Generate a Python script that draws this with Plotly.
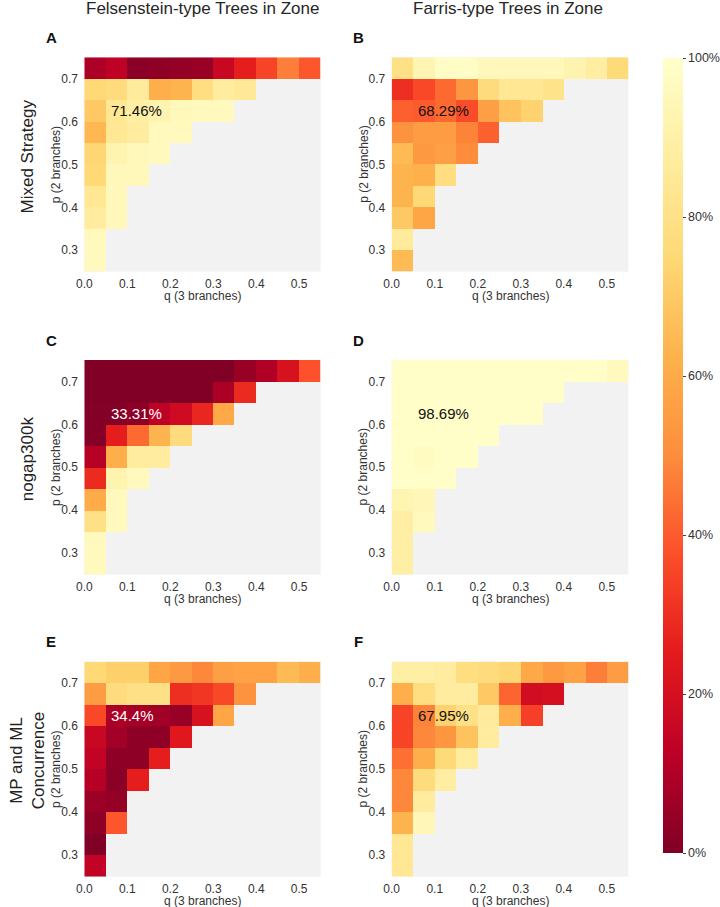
import plotly.graph_objects as go

# ---------------- data ----------------
q_bins = [0.025, 0.075, 0.125, 0.175, 0.225, 0.275, 0.325, 0.375, 0.425, 0.475, 0.525]
p_bins = [0.725, 0.675, 0.625, 0.575, 0.525, 0.475, 0.425, 0.375, 0.325, 0.275]  # top -> bottom
x_ticks = [0.0, 0.1, 0.2, 0.3, 0.4, 0.5]
y_ticks = [0.3, 0.4, 0.5, 0.6, 0.7]
cbar_ticks = [0, 20, 40, 60, 80, 100]

col_titles = ["Felsenstein-type Trees in Zone", "Farris-type Trees in Zone"]
row_titles = ["Mixed Strategy", "nogap300k", "MP and ML<br>Concurrence"]
panel_letters = ["A", "B", "C", "D", "E", "F"]
panel_overall = ["71.46%", "68.29%", "33.31%", "98.69%", "34.4%", "67.95%"]

# percent of correct trees per cell, rows from p=0.725 (top) down to p=0.275
panel_A = [
    [9, 13, 2, 3, 4, 5, 16, 26, 35, 47, 39],
    [75, 77, 86, 61, 63, 78, 87, 85],
    [70, 84, 89, 92, 95, 96, 96],
    [64, 84, 87, 96, 96],
    [74, 92, 95, 96],
    [75, 95, 95],
    [84, 95],
    [87, 95],
    [96],
    [96],
]
panel_B = [
    [80, 93, 98, 98, 95, 95, 95, 95, 92, 88, 76],
    [30, 36, 43, 53, 77, 84, 84, 81],
    [41, 40, 43, 37, 56, 68, 73],
    [52, 55, 55, 48, 41],
    [65, 54, 56, 50],
    [63, 62, 78],
    [63, 75],
    [70, 58],
    [86],
    [65],
]
panel_C = [
    [0, 0, 0, 0, 0, 0, 0, 5, 10, 21, 38],
    [0, 0, 0, 0, 0, 0, 9, 29],
    [1, 1, 3, 13, 18, 28, 59],
    [1, 26, 43, 63, 77],
    [11, 61, 87, 87],
    [29, 92, 96],
    [60, 96],
    [80, 96],
    [96],
    [96],
]
panel_D = [
    [99, 99, 99, 99, 99, 99, 99, 99, 99, 99, 96],
    [99, 99, 99, 99, 99, 99, 99, 99],
    [99, 99, 99, 99, 99, 99, 99],
    [99, 99, 99, 99, 99],
    [99, 97, 99, 99],
    [99, 99, 99],
    [93, 94],
    [89, 96],
    [89],
    [89],
]
panel_E = [
    [75, 72, 72, 58, 54, 49, 56, 57, 57, 65, 61],
    [55, 77, 80, 80, 30, 32, 36, 52],
    [36, 9, 8, 7, 5, 21, 58],
    [16, 7, 3, 3, 24],
    [14, 3, 3, 26],
    [11, 2, 26],
    [6, 4],
    [3, 39],
    [0],
    [14],
]
panel_F = [
    [89, 89, 87, 78, 77, 74, 59, 54, 57, 47, 55],
    [61, 78, 87, 87, 70, 42, 19, 20],
    [35, 48, 73, 80, 86, 61, 34],
    [35, 49, 53, 68, 87],
    [44, 61, 76, 87],
    [49, 77, 88],
    [49, 87],
    [63, 94],
    [84],
    [84],
]
panels = [panel_A, panel_B, panel_C, panel_D, panel_E, panel_F]
text_colors = ["#111111", "#111111", "white", "#111111", "white", "#111111"]

# YlOrRd (ColorBrewer), reversed so that 0% is dark red
ylorrd = ["rgb(128,0,38)", "rgb(189,0,38)", "rgb(227,26,28)", "rgb(252,78,42)",
          "rgb(253,141,60)", "rgb(254,178,76)", "rgb(254,217,118)",
          "rgb(255,237,160)", "rgb(255,255,204)"]
colorscale = [[i / (len(ylorrd) - 1), c] for i, c in enumerate(ylorrd)]

# ---------------- layout geometry ----------------
W, H = 720, 907
col_px = [(84.3, 320.7), (391.7, 628.3)]
row_px = [(57.3, 271.7), (360.0, 574.5), (661.7, 876.7)]

def px_x(v):
    return v / W

def px_y(v):
    return 1 - v / H

fig = go.Figure()
annotations = []
layout_axes = {}
font_family = "Liberation Sans, Arial, sans-serif"

for idx, pan in enumerate(panels):
    r, c = divmod(idx, 2)
    n = idx + 1
    z = []
    for row in pan:
        z.append(list(row) + [None] * (len(q_bins) - len(row)))
    xa = "x" if n == 1 else f"x{n}"
    ya = "y" if n == 1 else f"y{n}"
    fig.add_trace(go.Heatmap(
        z=z, x=q_bins, y=p_bins, xaxis=xa, yaxis=ya,
        coloraxis="coloraxis", hoverongaps=False, xgap=0, ygap=0,
    ))
    x0, x1 = col_px[c]
    y0, y1 = row_px[r]
    xkey = "xaxis" if n == 1 else f"xaxis{n}"
    ykey = "yaxis" if n == 1 else f"yaxis{n}"
    layout_axes[xkey] = dict(
        domain=[px_x(x0), px_x(x1)], anchor=ya, range=[0, 0.55],
        tickvals=x_ticks, ticktext=[f"{v:.1f}" for v in x_ticks],
        showgrid=False, zeroline=False, showline=False,
        ticks="outside", ticklen=1, tickcolor="rgba(0,0,0,0)",
        tickfont=dict(size=12, color="#333333", family=font_family),
        fixedrange=True, automargin=False,
    )
    layout_axes[ykey] = dict(
        domain=[px_y(y1), px_y(y0)], anchor=xa, range=[0.25, 0.75],
        tickvals=y_ticks, ticktext=[f"{v:.1f}" for v in y_ticks],
        showgrid=False, zeroline=False, showline=False,
        ticks="outside", ticklen=3, tickcolor="rgba(0,0,0,0)",
        tickfont=dict(size=12, color="#333333", family=font_family),
        fixedrange=True, automargin=False,
    )
    # axis titles
    annotations.append(dict(
        x=px_x((x0 + x1) / 2), y=px_y(y1 + 24), xref="paper", yref="paper",
        text="q (3 branches)", showarrow=False, xanchor="center", yanchor="middle",
        font=dict(size=12, color="#333333", family=font_family)))
    annotations.append(dict(
        x=px_x(x0 - 28.5), y=px_y((y0 + y1) / 2), xref="paper", yref="paper",
        text="p (2 branches)", showarrow=False, textangle=-90,
        xanchor="center", yanchor="middle",
        font=dict(size=12, color="#333333", family=font_family)))
    # panel letter
    annotations.append(dict(
        x=px_x(x0 - 33), y=px_y(y0 - 20), xref="paper", yref="paper",
        text=f"<b>{panel_letters[idx]}</b>", showarrow=False,
        xanchor="center", yanchor="middle",
        font=dict(size=15, color="#111111", family=font_family)))
    # overall percentage
    annotations.append(dict(
        x=0.057, y=0.625, xref=xa, yref=ya, text=panel_overall[idx],
        showarrow=False, xanchor="left", yanchor="middle",
        font=dict(size=15, color=text_colors[idx], family=font_family)))

for c, t in enumerate(col_titles):
    x0, x1 = col_px[c]
    annotations.append(dict(
        x=px_x((x0 + x1) / 2 + (0 if c == 0 else -2)), y=px_y(8), xref="paper", yref="paper",
        text=t, showarrow=False, xanchor="center", yanchor="middle",
        font=dict(size=17, color="#262626", family=font_family)))

for r, t in enumerate(row_titles):
    y0, y1 = row_px[r]
    annotations.append(dict(
        x=px_x(27), y=px_y((y0 + y1) / 2 - 8), xref="paper", yref="paper",
        text=t, showarrow=False, textangle=-90, xanchor="center", yanchor="middle",
        font=dict(size=17, color="#222222", family=font_family)))

fig.update_layout(
    width=W, height=H,
    margin=dict(l=0, r=0, t=0, b=0, autoexpand=False),
    paper_bgcolor="white",
    plot_bgcolor="#f2f2f2",
    showlegend=False,
    annotations=annotations,
    coloraxis=dict(
        colorscale=colorscale, cmin=0, cmax=100,
        colorbar=dict(
            x=px_x(663), xanchor="left", y=px_y((58 + 853) / 2), yanchor="middle",
            len=(853 - 58) / H, lenmode="fraction", thickness=20, thicknessmode="pixels",
            tickvals=cbar_ticks, ticktext=[f"{v}%" for v in cbar_ticks],
            ticks="outside", ticklen=3, tickcolor="#444444",
            tickfont=dict(size=12.5, color="#333333", family=font_family),
            outlinewidth=0, xpad=0, ypad=0,
        ),
    ),
    **layout_axes,
)

fig.write_html(
    "out.html",
    config={"displayModeBar": False},
    post_script="document.body.style.margin='0';document.body.style.overflow='hidden';",
)
